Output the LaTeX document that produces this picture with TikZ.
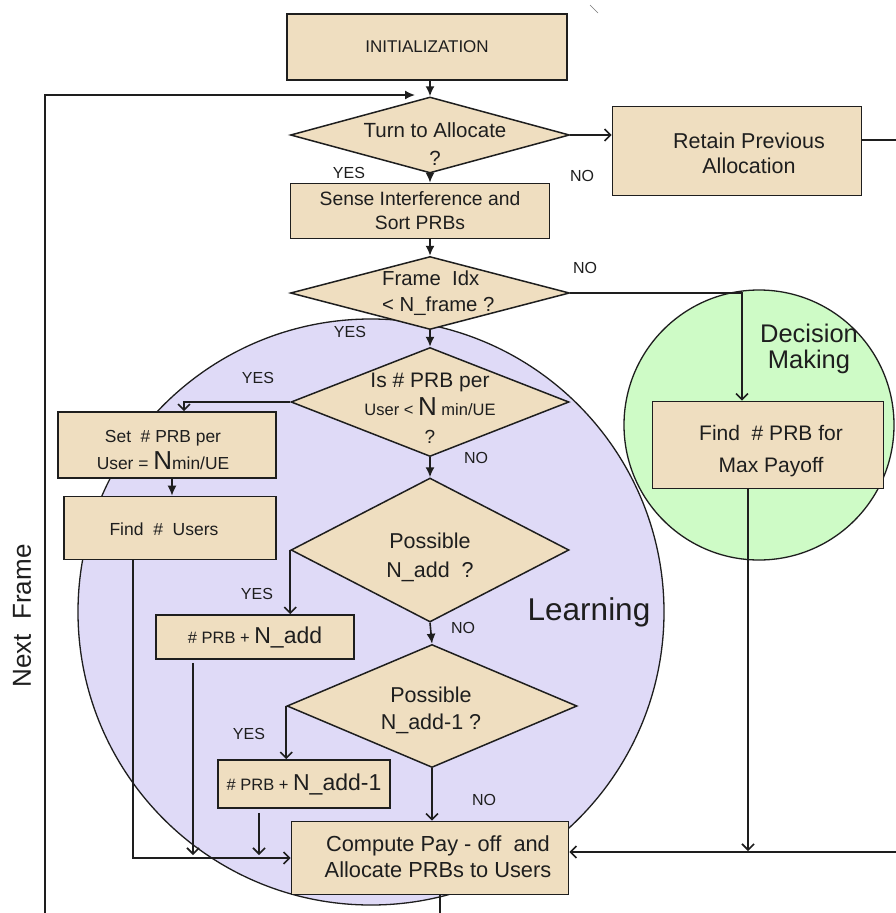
\documentclass[tikz,border=0pt]{standalone}
\usepackage{fontspec}
\setmainfont{Liberation Sans}
\usetikzlibrary{shapes.geometric,arrows.meta,calc}
\definecolor{boxfill}{HTML}{EFDEC0}
\definecolor{learnfill}{HTML}{DFDAF7}
\definecolor{decfill}{HTML}{CEFBC6}
\definecolor{ink}{HTML}{1E1E1E}
\newcommand{\fsz}[2]{\fontsize{#1}{#2}\selectfont}
\begin{document}
\begin{tikzpicture}[x=1pt,y=-1pt,
  box/.style={draw=ink, line width=1.6pt, fill=boxfill, inner sep=0pt, text=ink, align=center},
  dia/.style={diamond, draw=ink, line width=1.5pt, fill=boxfill, inner sep=0pt},
  txt/.style={text=ink, align=center, inner sep=0pt},
  lab/.style={text=ink, font=\fsz{16}{18}, inner sep=0pt},
  zone/.style={circle, draw=ink, line width=1.3pt, inner sep=0pt},
  conn/.style={draw=ink, line width=1.6pt},
  fa/.style={conn, -{Latex[length=10pt,width=9pt]}},
  oa/.style={conn, -{Straight Barb[length=6pt,width=12pt]}}
]
\useasboundingbox[fill=white] (0,0) rectangle (896,913);

% zones
\node[zone, fill=learnfill, minimum size=586pt] (learn) at (371,612) {};
\node[zone, fill=decfill, minimum size=270pt] (decide) at (759,425) {};
\node[txt, font=\fsz{31.5}{34}] (learnT) at (589,612) {Learning};
\node[txt, font=\fsz{25.5}{26}] (decideT) at (809,349) {Decision\\Making};

% stray mark
\draw[ink!60, line width=0.6pt] (590,5) -- (598,13);

% boxes and diamonds
\node[box, minimum width=280pt, minimum height=66pt] (init) at (427,47) {\fsz{17}{20}INITIALIZATION};
\node[dia, minimum width=279pt, minimum height=76pt] (turn) at (430,135) {};
\node[txt, font=\fsz{20.5}{28}] (turnT) at (435,144) {Turn to Allocate\\?};
\node[box, minimum width=249pt, minimum height=89pt] (retain) at (737,151) {};
\node[txt, font=\fsz{21.5}{25}] (retainT) at (749,153) {Retain Previous\\Allocation};
\node[box, minimum width=259pt, minimum height=55pt, font=\fsz{19.3}{24}] (sense) at (420,211) {Sense Interference and\\Sort PRBs};
\node[dia, minimum width=279pt, minimum height=73pt] (frame) at (430,293) {};
\node[txt, font=\fsz{20.3}{26}, align=left, anchor=west] (frameT) at (382,293) {Frame\ \ Idx\\< N\_frame ?};
\node[dia, minimum width=278pt, minimum height=109pt] (is) at (430,402) {};
\node[txt, font=\fsz{21}{28}] (isT) at (430,408) {Is \# PRB per\\{\fsz{16.5}{28}User < }{\fsz{26}{28}N}{\fsz{16.5}{28} min/UE}\\{\fsz{19}{28}?}};
\node[box, minimum width=218pt, minimum height=66pt] (set) at (167,445) {};
\node[txt, font=\fsz{17.4}{27}] (setT) at (163,450) {Set\ \ \# PRB per\\User = {\fsz{26}{27}N}min/UE};
\node[box, minimum width=212pt, minimum height=63pt] (findusers) at (170,528) {};
\node[txt, font=\fsz{17.5}{18}] (findusersT) at (164,529) {Find\ \ \#\ \ Users};
\node[dia, minimum width=278pt, minimum height=144pt] (possible) at (430,550) {};
\node[txt, font=\fsz{21.5}{29}] (possibleT) at (430,557) {Possible\\N\_add\ \ ?};
\node[box, minimum width=198pt, minimum height=44pt] (nadd) at (255,637) {\fsz{16.5}{18}\# PRB + {\fsz{23}{22}N\_add}};
\node[dia, minimum width=290pt, minimum height=123pt] (possible1) at (432,706) {};
\node[txt, font=\fsz{21.5}{27}] (possible1T) at (431,710) {Possible\\N\_add-1 ?};
\node[box, minimum width=172pt, minimum height=48pt] (nadd1) at (304,784) {\fsz{16.5}{18}\# PRB + {\fsz{23}{22}N\_add-1}};
\node[box, minimum width=277pt, minimum height=73pt] (compute) at (430,858) {};
\node[txt, font=\fsz{21.8}{26}] (computeT) at (438,857) {Compute Pay - off\ \ and\\Allocate PRBs to Users};
\node[box, minimum width=231pt, minimum height=87pt] (findprb) at (768,445) {};
\node[txt, font=\fsz{21}{32}] (findprbT) at (771,451) {Find\ \ \# PRB for\\Max Payoff};

\node[txt, font=\fsz{26}{28}, rotate=90] (nextT) at (22,616) {Next\ \ Frame};

% labels
\node[lab] (y1) at (349,173) {YES};
\node[lab] (n1) at (582,176) {NO};
\node[lab] (n2) at (585,268) {NO};
\node[lab] (y2) at (350,332) {YES};
\node[lab] (y3) at (258,378) {YES};
\node[lab] (n3) at (476,458) {NO};
\node[lab] (y4) at (257,594) {YES};
\node[lab] (n4) at (463,628) {NO};
\node[lab] (y5) at (249,734) {YES};
\node[lab] (n5) at (484,800) {NO};

% coordinates for free ends
\coordinate (nfB) at (45,913);
\coordinate (nfE) at (415,95);
\coordinate (rOut) at (896,140);
\coordinate (rIn) at (896,852);
\coordinate (cOut) at (440,913);

% connectors
\draw[fa] (init.south -| turn.north) -- (turn.north);
\draw[fa] (nfB) -- (nfB |- nfE) -- (nfE);
\draw[oa] (turn.east) -- (turn.east -| retain.west);
\draw[conn] (retain.east |- rOut) -- (rOut);
\draw[fa] (turn.south) -- (turn.south |- sense.north);
\draw[fa] (sense.south -| frame.north) -- (frame.north);
\draw[oa] (frame.east) -| ($(findprb.north)+(-26,0)$);
\draw[fa] (frame.south) -- (is.north);
\draw[oa] (is.west) -| ($(set.north)+(17,0)$);
\draw[fa] ($(set.south)+(5,0)$) -- ($(findusers.north)+(2,0)$);
\draw[fa] (is.south) -- (possible.north);
\draw[oa] (possible.west) -- (possible.west |- nadd.north);
\draw[fa] (possible.south) -- (possible1.north);
\draw[oa] (possible1.west) -- (possible1.west |- nadd1.north);
\draw[oa] (possible1.south) -- (possible1.south |- compute.north);
\draw[oa] ($(nadd1.south)+(-45,4)$) -- ($(nadd1.south |- compute.west)+(-45,-3)$);
\draw[oa] ($(nadd.south)+(-62,3)$) -- ($(nadd.south |- compute.west)+(-62,-3)$);
\draw[oa] ($(findusers.south)+(-37,0)$) |- (compute.west);
\draw[conn] (compute.south -| cOut) -- (cOut);
\draw[oa] (rIn) -- (rIn -| compute.east);
\draw[oa] ($(findprb.south)+(-20,0)$) -- ($(findprb.south |- rIn)+(-20,-1)$);
\end{tikzpicture}
\end{document}
